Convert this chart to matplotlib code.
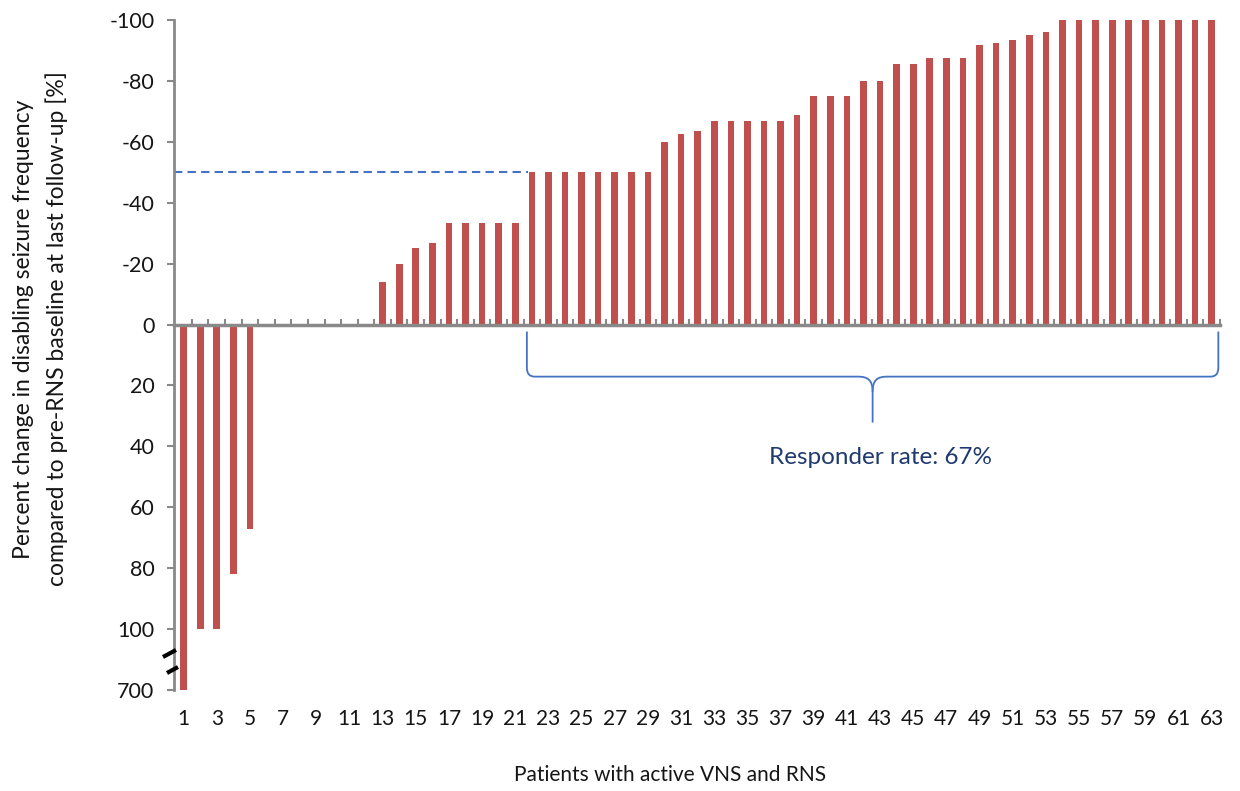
import numpy as np
import matplotlib
matplotlib.use("Agg")
import matplotlib.pyplot as plt
from matplotlib.path import Path
from matplotlib.patches import PathPatch

plt.rcParams['font.family'] = ['Lato', 'DejaVu Sans']

# ---- data ----
patients = list(range(1, 64))
pct_change = [700, 100, 100, 82, 67,
              0, 0, 0, 0, 0, 0, 0,
              -14, -20, -25, -26.7, -33.3, -33.3, -33.3, -33.3, -33.3,
              -50, -50, -50, -50, -50, -50, -50, -50,
              -60, -62.5, -63.6,
              -66.7, -66.7, -66.7, -66.7, -66.7,
              -68.8,
              -75, -75, -75,
              -80, -80,
              -85.7, -85.7,
              -87.5, -87.5, -87.5,
              -91.7, -92.3, -93.3, -95.2, -96.2,
              -100, -100, -100, -100, -100, -100, -100, -100, -100, -100]
ytick_vals = [-100, -80, -60, -40, -20, 0, 20, 40, 60, 80, 100, 700]
ytick_labels = ['-100', '-80', '-60', '-40', '-20', '0', '20', '40', '60', '80', '100', '700']
xtick_vals = list(range(1, 64, 2))
responder_threshold = -50
responder_first = 22
responder_text = "Responder rate: 67%"

# broken axis: 100..700 compressed into 20 units
def fwd(v):
    v = np.asarray(v, dtype=float)
    return np.where(v <= 100, v, 100 + (v - 100) / 30.0)

def inv(m):
    m = np.asarray(m, dtype=float)
    return np.where(m <= 100, m, 100 + (m - 100) * 30.0)

W, H = 1240, 791
fig = plt.figure(figsize=(W / 100, H / 100), dpi=100)
ax = fig.add_axes([174 / W, 1 - 690 / H, (1220 - 174) / W, (690 - 20) / H])
ax.set_yscale('function', functions=(fwd, inv))

bar_color = '#C0504D'
axis_gray = '#898989'
blue = '#4472C4'
txt = '#151515'

ax.bar(patients, pct_change, width=0.4, color=bar_color, zorder=2)

ax.set_ylim(700, -100)
ax.set_xlim(0.42, 63.46)

# spines
for s in ['top', 'right']:
    ax.spines[s].set_visible(False)
ax.spines['left'].set_color(axis_gray)
ax.spines['left'].set_linewidth(2)
ax.spines['bottom'].set_position(('data', 0))
ax.spines['bottom'].set_color(axis_gray)
ax.spines['bottom'].set_linewidth(2.5)
ax.spines['bottom'].set_zorder(3)

ax.set_yticks(ytick_vals)
ax.set_yticklabels(ytick_labels)
ax.yaxis.set_minor_locator(matplotlib.ticker.NullLocator())
ax.tick_params(axis='y', which='major', length=5, width=1.5, color=axis_gray,
               labelsize=15.5, pad=9, labelcolor=txt)

# x axis on the zero line: small ticks between bars, no labels
ax.set_xticks(np.arange(1.5, 63.6, 1.0))
ax.set_xticklabels([])
ax.tick_params(axis='x', which='major', direction='in', length=4.5, width=1.5,
               color=axis_gray)

# labels at the bottom
sec = ax.secondary_xaxis('bottom')
sec.set_xticks(xtick_vals)
sec.set_xticklabels([str(v) for v in xtick_vals])
sec.tick_params(length=0, labelsize=15, pad=14, labelcolor=txt)
sec.spines['bottom'].set_visible(False)

# axis break marks
for (x0, y0, x1, y1) in [(163, 657, 176, 650), (167, 673, 178, 667)]:
    fig.add_artist(plt.Line2D([x0 / W, x1 / W], [1 - y0 / H, 1 - y1 / H],
                              transform=fig.transFigure, color='black', lw=3,
                              solid_capstyle='butt'))

# dashed responder threshold line
ax.plot([0.42, responder_first - 0.25], [responder_threshold, responder_threshold],
        color=blue, lw=1.5, dashes=(4, 2.5), zorder=1)

# curly brace under responders
xL, xR = responder_first - 0.3, 63.4
xm = (xL + xR) / 2
yT, yM, yB = 2.3, 17.1, 32.2
left_v = [(xL, yT), (xL, yM - 3),
          (xL, yM - 1), (xL + 0.15, yM), (xL + 0.5, yM),
          (xm - 0.9, yM),
          (xm - 0.3, yM), (xm, yM + 1), (xm, yM + 5),
          (xm, yB)]
left_c = [Path.MOVETO, Path.LINETO,
          Path.CURVE4, Path.CURVE4, Path.CURVE4,
          Path.LINETO,
          Path.CURVE4, Path.CURVE4, Path.CURVE4,
          Path.LINETO]
right_v = [(xR, yT), (xR, yM - 3),
           (xR, yM - 1), (xR - 0.15, yM), (xR - 0.5, yM),
           (xm + 0.9, yM),
           (xm + 0.3, yM), (xm, yM + 1), (xm, yM + 5)]
right_c = left_c[:-1]
for v, c in [(left_v, left_c), (right_v, right_c)]:
    ax.add_patch(PathPatch(Path(v, c), facecolor='none', edgecolor=blue, lw=1.3,
                           clip_on=False, zorder=4))

ax.text(xm + 0.45, 43.7, responder_text, ha='center', va='center',
        fontsize=17.5, color='#1F3A6E')

# axis titles
fig.text(24 / W, 1 - 329 / H, "Percent change in disabling seizure frequency",
         rotation=90, ha='center', va='center', fontsize=16.5, color=txt)
fig.text(57 / W, 1 - 329 / H, "compared to pre-RNS baseline at last follow-up [%]",
         rotation=90, ha='center', va='center', fontsize=16.5, color=txt)
fig.text(670 / W, 1 - 775 / H, "Patients with active VNS and RNS",
         ha='center', va='center', fontsize=15, color=txt)

fig.savefig('out.png', dpi=100)
